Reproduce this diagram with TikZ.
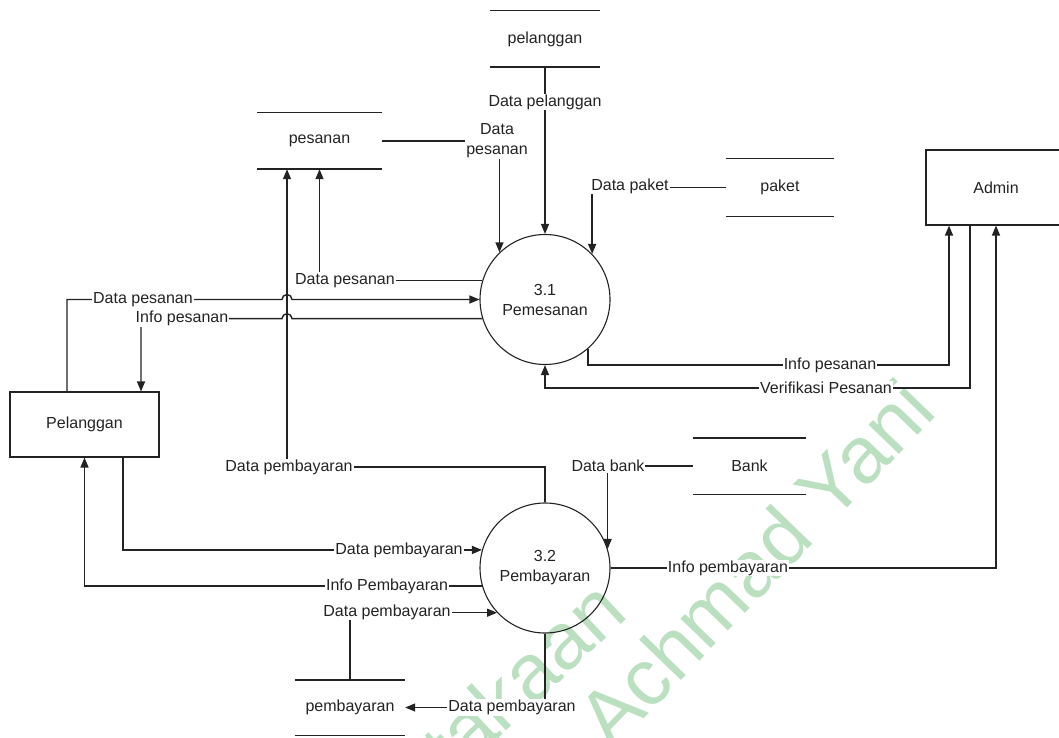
\documentclass[tikz,border=0pt]{standalone}
\usepackage{fontspec}
\setmainfont{Liberation Sans}
\usetikzlibrary{arrows.meta,calc}
\definecolor{wmgreen}{RGB}{186,224,192}
\definecolor{ink}{RGB}{35,35,35}
\pgfdeclarelayer{bgwm}
\pgfdeclarelayer{bglines}
\pgfsetlayers{bgwm,bglines,main}
\begin{document}
\begin{tikzpicture}[x=1pt,y=-1pt,
  ln/.style={line width=1.4pt, draw=ink},
  arr/.style={ln, -{Triangle[length=10pt,width=8pt]}},
  txt/.style={font=\fontsize{16}{20}\selectfont, text=ink},
  proc/.style={txt, circle, draw=ink, line width=1.1pt, minimum size=130pt, inner sep=0pt, align=center},
  ent/.style={txt, rectangle, draw=ink, line width=1.1pt},
  store/.style={txt, inner sep=0pt},
  lab/.style={txt, fill=white, inner sep=1pt, align=center},
  wm/.style={text=wmgreen, font=\fontsize{80}{80}\selectfont, rotate=46, inner sep=0pt}
]
\useasboundingbox (0,0) rectangle (1059,738);

% processes
\node[proc] (c1) at (545,299.5) {3.1\\Pemesanan};
\node[proc] (c2) at (545,568) {3.2\\Pembayaran};

% external entities
\node[ent, minimum width=149pt, minimum height=65pt] (pel) at (84.5,424.5) {Pelanggan};
\node[ent, minimum width=140pt, minimum height=75pt] (adm) at (996,187.5) {Admin};

% data stores
\node[store, minimum width=110pt, minimum height=56pt] (spel) at (545,39) {pelanggan};
\node[store, minimum width=125pt, minimum height=56pt] (spes) at (319.5,141) {pesanan};
\node[store, minimum width=108pt, minimum height=57pt] (spak) at (780,187.5) {paket};
\node[store, minimum width=113pt, minimum height=56pt] (sbank) at (749.5,466) {Bank};
\node[store, minimum width=110pt, minimum height=55pt] (spem) at (350,707.5) {pembayaran};
\foreach \s in {spel,spes,spak,sbank,spem}
  \draw[ln] (\s.north west) -- (\s.north east) (\s.south west) -- (\s.south east);

% labels
\node[lab] (l1) at (545,102) {Data pelanggan};
\node[lab] (l2) at (497,141) {Data\\pesanan};
\node[lab] (l3) at (630,186) {Data paket};
\node[lab] (l4) at (345,280.5) {Data pesanan};
\node[lab] (l5) at (143,299.5) {Data pesanan};
\node[lab] (l6) at (182,318.5) {Info pesanan};
\node[lab] (l7) at (830,365) {Info pesanan};
\node[lab] (l8) at (826,388) {Verifikasi Pesanan};
\node[lab] (l9) at (289,467) {Data pembayaran};
\node[lab] (l10) at (608,466) {Data bank};
\node[lab] (l11) at (399,550) {Data pembayaran};
\node[lab] (l12) at (728,568) {Info pembayaran};
\node[lab] (l13) at (387,586) {Info Pembayaran};
\node[lab] (l14) at (387,612) {Data pembayaran};
\node[lab] (l15) at (512,707.5) {Data pembayaran};

% corner coordinates
\coordinate (k5) at (67,299.5);
\coordinate (k6) at (141,318.5);
\coordinate (k7) at (949,365);
\coordinate (k8) at (970,388);
\coordinate (k9) at (287,467);
\coordinate (k11) at (123,550);

\begin{pgfonlayer}{bglines}
\draw[arr] (spel.south) -- (c1.north);
\draw[arr] (spes.east) -| (c1.134);
\draw[arr] (spak.west) -| (c1.44);
\draw[arr] (c1.163) -| (spes.south);
\draw[arr] (c2.north) |- (k9) -- (k9 |- spes.south);
\draw[arr] (k5 |- pel.north) -- (k5) -- ($(k9 |- k5)+(-5,0)$)
  arc[start angle=180,end angle=0,radius=5pt] -- (c1.west);
\draw[arr] (c1.197) -- ($(k9 |- c1.197)+(5,0)$)
  arc[start angle=0,end angle=180,radius=5pt] -- (k6) -- (k6 |- pel.north);
\draw[arr] (c1.311) |- (k7) -- (k7 |- adm.south);
\draw[arr] (k8 |- adm.south) -- (k8) -| (c1.south);
\draw[arr] (c2.east) -| (adm.south);
\draw[arr] (sbank.west) -| (c2.17);
\draw[arr] (k11 |- pel.south) |- (c2.164);
\draw[arr] (c2.196) -| (pel.south);
\draw[arr] (spem.north) |- (c2.223);
\draw[arr] (c2.south) |- (spem.east);
\end{pgfonlayer}

\begin{pgfonlayer}{bgwm}
\node[wm, rotate=-3, anchor=base east] (w1) at (630,616) {takaan};
\node[wm, anchor=base west] (w2) at (612,752) {Achmad Yani};
\end{pgfonlayer}
\end{tikzpicture}
\end{document}
